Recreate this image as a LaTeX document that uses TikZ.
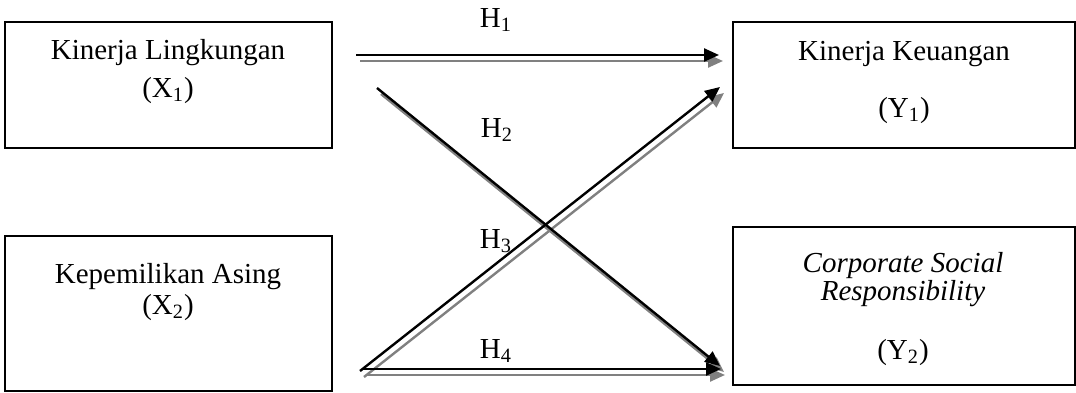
\documentclass[tikz,border=0pt]{standalone}
\usepackage{fontspec}
\setmainfont{Liberation Serif}
\usetikzlibrary{arrows.meta}
\begin{document}
\begin{tikzpicture}[x=0.5pt,y=-0.5pt,
  box/.style={draw, line width=1pt, inner sep=0pt},
  lbl/.style={anchor=base, inner sep=0pt, font=\fontsize{14.5}{17}\selectfont},
  arr/.style={line width=1.2pt, -{Triangle[length=7.5pt,width=6.5pt]}},
  shadowarr/.style={arr, draw=black!50}]
\useasboundingbox (0,0) rectangle (1076,392);
% boxes
\node[box, minimum width=163.5pt, minimum height=63pt] (x1) at (168.5,85) {};
\node[box, minimum width=163.5pt, minimum height=77.5pt] (x2) at (168.5,313.5) {};
\node[box, minimum width=171pt, minimum height=63pt] (y1) at (904,85) {};
\node[box, minimum width=171pt, minimum height=79pt] (y2) at (904,306) {};
% box texts
\node[lbl] (x1a) at (168,59) {Kinerja Lingkungan};
\node[lbl] (x1b) at (168,97) {(X\textsubscript{1})};
\node[lbl] (x2a) at (168,283) {Kepemilikan Asing};
\node[lbl] (x2b) at (168,314) {(X\textsubscript{2})};
\node[lbl] (y1a) at (904,60) {Kinerja Keuangan};
\node[lbl] (y1b) at (904,117) {(Y\textsubscript{1})};
\node[lbl] (y2a) at (903,272) {\itshape Corporate Social};
\node[lbl] (y2b) at (903,300) {\itshape Responsibility};
\node[lbl] (y2c) at (903,359) {(Y\textsubscript{2})};
% hypothesis labels
\node[lbl] (h1) at (496,27) {H\textsubscript{1}};
\node[lbl] (h2) at (497,137) {H\textsubscript{2}};
\node[lbl] (h3) at (496,248) {H\textsubscript{3}};
\node[lbl] (h4) at (496,358) {H\textsubscript{4}};
% arrow end points
\coordinate (h1s) at (356,55);  \coordinate (h1e) at (719,55);
\coordinate (h2s) at (377,88);  \coordinate (h2e) at (720,366);
\coordinate (h3s) at (360,371); \coordinate (h3e) at (720,87);
\coordinate (h4s) at (362,369); \coordinate (h4e) at (721,369);
% shadows
\foreach \a in {h1,h2,h3,h4}{
  \draw[shadowarr] ([shift={(4,6)}]\a s) -- ([shift={(4,6)}]\a e);
}
% arrows
\foreach \a in {h1,h2,h3,h4}{
  \draw[arr] (\a s) -- (\a e);
}
\end{tikzpicture}
\end{document}
